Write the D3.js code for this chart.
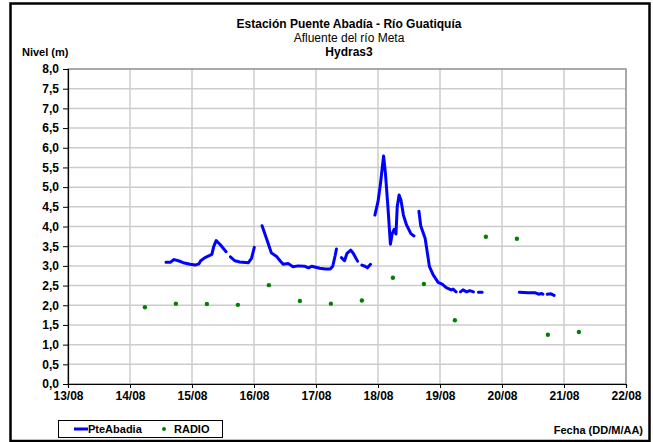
<!DOCTYPE html>
<html><head><meta charset="utf-8">
<script src="https://cdn.jsdelivr.net/npm/d3@7/dist/d3.min.js"></script>
<style>body{margin:0;background:#fff}svg{display:block}text{font-family:"Liberation Sans",Arial,sans-serif}</style>
</head><body><svg id="c" width="653" height="442"></svg>
<script>
// Day of August (fraction = time of day); null marks a gap in the record
const pteDays = [14.58,14.65,14.71,14.78,14.86,14.97,15.05,15.11,15.14,15.21,15.32,15.35,15.39,15.45,15.55,15.58,
 15.62,15.69,15.77,15.91,15.96,16.005,16.06,
 16.13,16.20,16.28,16.37,16.42,16.47,16.55,16.63,16.71,16.82,16.88,16.93,17.06,17.15,17.23,17.27,17.31,17.33,17.37,
 17.41,17.46,17.50,17.56,17.60,17.67,17.70,
 17.74,17.79,17.83,17.88,17.91,
 17.95,18.00,18.04,18.09,18.12,18.16,18.20,18.23,18.26,18.29,18.31,18.34,18.37,18.41,18.46,18.53,18.58,18.62,
 18.66,18.69,18.76,18.83,18.89,18.97,19.04,19.10,19.18,19.21,19.26,19.29,
 19.33,19.37,19.43,19.48,19.54,19.58,
 19.62,19.68,19.70,
 20.28,20.42,20.53,20.59,20.64,20.66,20.70,
 20.73,20.79,20.84];
const pteLevels = [3.09,3.09,3.16,3.13,3.08,3.04,3.02,3.05,3.13,3.21,3.29,3.49,3.64,3.55,3.36,null,
 3.23,3.13,3.10,3.08,3.19,3.47,null,
 4.02,3.70,3.33,3.23,3.13,3.04,3.06,2.98,3.00,2.99,2.95,2.99,2.94,2.92,2.92,2.99,3.27,3.43,null,
 3.21,3.13,3.32,3.40,3.32,3.12,null,
 3.02,2.99,2.95,3.04,null,
 4.29,4.63,5.09,5.79,5.35,4.50,3.55,3.82,3.93,3.81,4.50,4.80,4.67,4.29,4.04,3.82,3.76,null,
 4.39,4.01,3.70,2.98,2.77,2.58,2.53,2.45,2.39,2.41,2.34,null,
 2.34,2.39,2.34,2.37,2.34,null,
 2.33,2.33,null,
 2.33,2.32,2.32,2.28,2.30,2.28,null,
 2.28,2.29,2.25];
const radioDays = [14.24,14.74,15.24,15.74,16.24,16.74,17.24,17.74,18.24,18.74,19.24,19.74,20.24,20.74,21.24];
const radioLevels = [1.95,2.04,2.03,2.01,2.51,2.11,2.04,2.12,2.70,2.54,1.62,3.74,3.69,1.25,1.32];
const xTickDays = [13,14,15,16,17,18,19,20,21,22];
const yTickValues = [0,0.5,1,1.5,2,2.5,3,3.5,4,4.5,5,5.5,6,6.5,7,7.5,8];
const titleLines = ["Estación Puente Abadía  - Río Guatiquía","Afluente del río Meta","Hydras3"];

const svg = d3.select("#c");
const L=68, R=626, T=69, B=384;
const x = d3.scaleLinear().domain([13,22]).range([L,R]);
const y = d3.scaleLinear().domain([0,8]).range([B,T]);

// outer frame
svg.append("rect").attr("x",10.5).attr("y",3.5).attr("width",639).attr("height",437.5)
  .attr("fill","none").attr("stroke","#000").attr("stroke-width",2.5);

// grid
const g = svg.append("g");
g.selectAll(".hg").data(yTickValues.slice(1)).join("line")
  .attr("x1",L).attr("x2",R).attr("y1",d=>y(d)).attr("y2",d=>y(d))
  .attr("stroke","#cccccc").attr("stroke-width",1.5);
g.selectAll(".vg").data(xTickDays.slice(1)).join("line")
  .attr("x1",d=>x(d)).attr("x2",d=>x(d)).attr("y1",T).attr("y2",B)
  .attr("stroke","#cccccc").attr("stroke-width",1.5);
svg.append("rect").attr("x",L).attr("y",T).attr("width",R-L).attr("height",B-T)
  .attr("fill","none").attr("stroke","#999").attr("stroke-width",1.5);

// axes
const fmt = d3.format(".1f");
const yAxis = d3.axisLeft(y).tickValues(yTickValues).tickSize(5).tickPadding(4)
  .tickFormat(d=>fmt(d).replace(".",","));
const ya = svg.append("g").attr("transform",`translate(${L},0)`).call(yAxis);
const xAxis = d3.axisBottom(x).tickValues(xTickDays).tickSize(4).tickPadding(3)
  .tickFormat(d=>String(d).padStart(2,"0")+"/08");
const xa = svg.append("g").attr("transform",`translate(0,${B})`).call(xAxis);
[ya,xa].forEach(a=>{
  a.select(".domain").attr("stroke","#000").attr("stroke-width",1.2);
  a.selectAll(".tick line").attr("stroke","#000");
  a.selectAll("text").attr("font-family","Liberation Sans, Arial").attr("font-size",12)
   .attr("font-weight","bold").attr("fill","#000");
});

// series
const pts = pteDays.map((d,i)=>({d, v:pteLevels[i]}));
const line = d3.line().defined(p=>p.v!==null).x(p=>x(p.d)).y(p=>y(p.v)).curve(d3.curveLinear);
svg.append("path").attr("d",line(pts)).attr("fill","none").attr("stroke","#0000ff")
  .attr("stroke-width",3).attr("stroke-linejoin","round").attr("stroke-linecap","round");
svg.selectAll(".rd").data(radioDays).join("circle")
  .attr("cx",d=>x(d)).attr("cy",(d,i)=>y(radioLevels[i])).attr("r",2.2).attr("fill","#008000");

// titles
const cx = 349;
const tt = svg.append("text").attr("text-anchor","middle").attr("font-size",12).attr("fill","#000");
tt.append("tspan").attr("x",cx).attr("y",28).attr("font-weight","bold").text(titleLines[0]);
tt.append("tspan").attr("x",cx).attr("y",42).text(titleLines[1]);
tt.append("tspan").attr("x",cx).attr("y",56).attr("font-weight","bold").text(titleLines[2]);
svg.append("text").attr("x",22).attr("y",56).attr("font-size",11).attr("font-weight","bold").text("Nivel (m)");
svg.append("text").attr("x",643).attr("y",434).attr("text-anchor","end").attr("font-size",11)
  .attr("font-weight","bold").text("Fecha (DD/M/AA)");

// legend
const lg = svg.append("g");
lg.append("rect").attr("x",58.5).attr("y",420.5).attr("width",164).attr("height",17)
  .attr("fill","#fff").attr("stroke","#000").attr("stroke-width",1);
lg.append("line").attr("x1",74).attr("x2",88).attr("y1",429).attr("y2",429).attr("stroke","#0000ff").attr("stroke-width",3);
lg.append("text").attr("x",88).attr("y",433).attr("font-size",11).attr("font-weight","bold").text("PteAbadia");
lg.append("circle").attr("cx",164).attr("cy",429).attr("r",2).attr("fill","#008000");
lg.append("text").attr("x",174).attr("y",433).attr("font-size",11).attr("font-weight","bold").text("RADIO");
</script></body></html>
